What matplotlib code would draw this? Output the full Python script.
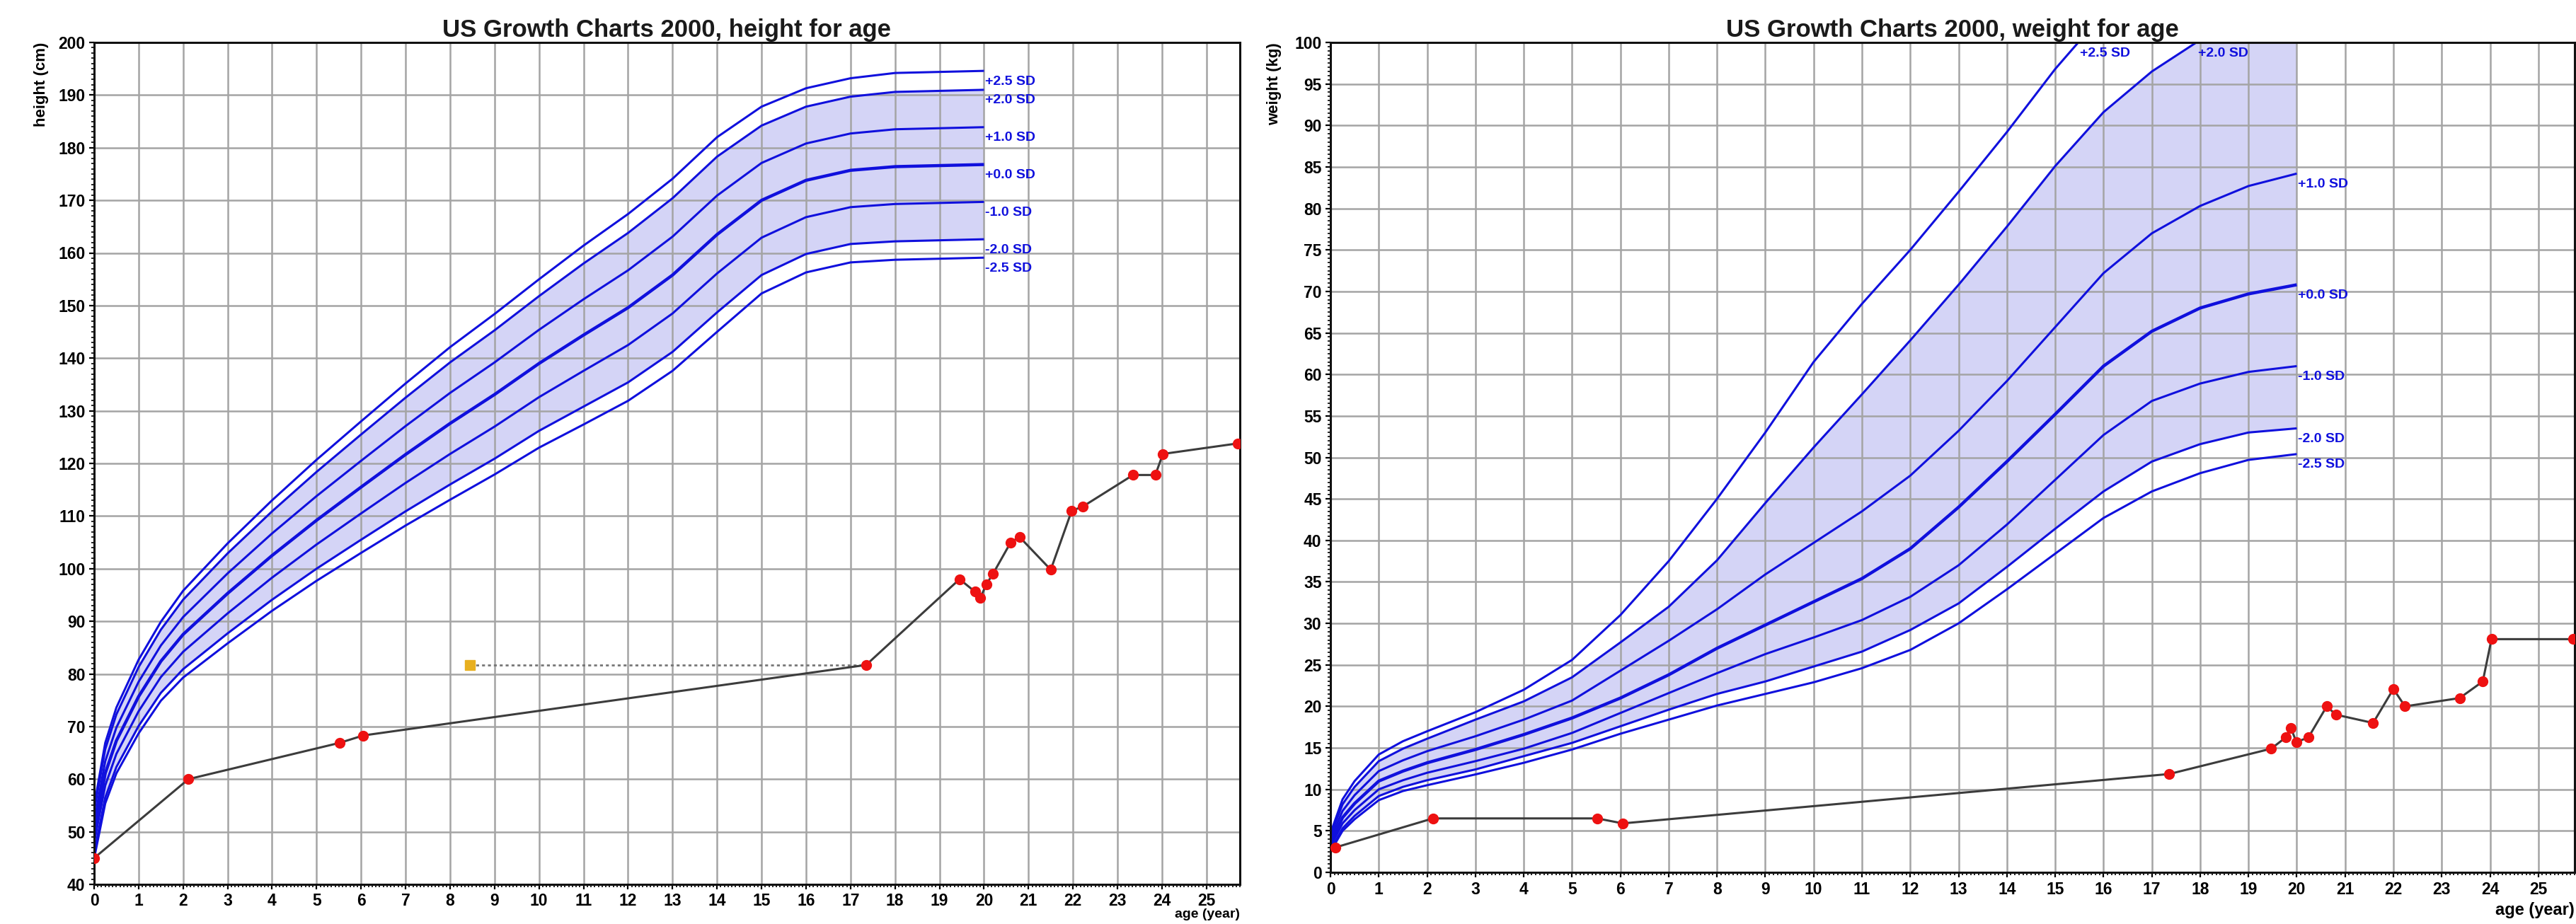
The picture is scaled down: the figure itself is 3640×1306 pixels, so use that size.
import numpy as np
import matplotlib
matplotlib.use("Agg")
import matplotlib.pyplot as plt
from matplotlib.ticker import MultipleLocator

plt.rcParams['font.family'] = ['Liberation Sans', 'DejaVu Sans']

# ---------------- data ----------------
ages = [0, 0.25, 0.5, 1, 1.5, 2, 3, 4, 5, 6, 7, 8, 9, 10, 11, 12, 13, 14, 15, 16, 17, 18, 19, 20]
sd_labels = ['+2.5 SD', '+2.0 SD', '+1.0 SD', '+0.0 SD', '-1.0 SD', '-2.0 SD', '-2.5 SD']

# height for age (cm)
h_p25 = [54.9, 66.9, 73.6, 82.7, 89.9, 95.8, 104.8, 113.0, 120.7, 128.0, 135.2, 142.1, 148.4, 155.0, 161.4, 167.4, 174.1, 182.0, 187.8, 191.3, 193.2, 194.2, 194.4, 194.6]
h_p20 = [53.9, 65.7, 72.3, 81.3, 88.4, 94.1, 102.9, 110.9, 118.4, 125.5, 132.5, 139.2, 145.3, 151.8, 158.0, 163.8, 170.4, 178.3, 184.2, 187.8, 189.7, 190.6, 190.8, 191.0]
h_p10 = [51.9, 63.4, 69.8, 78.5, 85.4, 90.8, 99.1, 106.7, 113.8, 120.5, 127.1, 133.4, 139.2, 145.4, 151.2, 156.7, 163.1, 170.9, 177.1, 180.8, 182.7, 183.5, 183.7, 183.9]
h_00 = [49.9, 61.1, 67.3, 75.7, 82.4, 87.5, 95.3, 102.5, 109.2, 115.5, 121.7, 127.6, 133.1, 139.0, 144.4, 149.6, 155.8, 163.5, 170.0, 173.8, 175.7, 176.4, 176.6, 176.8]
h_m10 = [47.9, 58.8, 64.8, 72.9, 79.4, 84.2, 91.5, 98.3, 104.6, 110.5, 116.3, 121.8, 127.0, 132.6, 137.6, 142.5, 148.5, 156.1, 162.9, 166.8, 168.7, 169.3, 169.5, 169.7]
h_m20 = [45.9, 56.5, 62.3, 70.1, 76.4, 80.9, 87.7, 94.1, 100.0, 105.5, 110.9, 116.0, 120.9, 126.2, 130.8, 135.4, 141.2, 148.7, 155.8, 159.8, 161.7, 162.2, 162.4, 162.6]
h_m25 = [44.9, 55.4, 61.1, 68.7, 74.9, 79.3, 85.8, 92.0, 97.7, 103.0, 108.2, 113.1, 117.9, 123.0, 127.4, 131.9, 137.6, 145.0, 152.3, 156.3, 158.2, 158.7, 158.9, 159.1]

# weight for age (kg)
w_p25 = [4.7, 8.8, 11.0, 14.2, 15.8, 17.0, 19.3, 22.0, 25.6, 31.0, 37.5, 45.0, 53.0, 61.5, 68.5, 75.0, 82.0, 89.2, 96.8, 103.5, 109.5, 114.0, 117.0, 119.0]
w_p20 = [4.4, 8.2, 10.3, 13.4, 14.9, 16.1, 18.4, 20.6, 23.5, 27.7, 32.0, 37.6, 44.5, 51.2, 57.6, 64.1, 70.8, 77.8, 85.1, 91.6, 96.5, 100.3, 103.5, 106.5]
w_p10 = [4.0, 7.4, 9.3, 12.2, 13.5, 14.6, 16.4, 18.4, 20.7, 24.3, 27.9, 31.7, 35.9, 39.7, 43.5, 47.8, 53.2, 59.2, 65.7, 72.2, 77.0, 80.3, 82.7, 84.2]
w_00 = [3.5, 6.6, 8.3, 11.0, 12.2, 13.2, 14.8, 16.6, 18.6, 21.0, 23.8, 27.0, 29.8, 32.6, 35.4, 39.0, 44.0, 49.5, 55.2, 61.0, 65.2, 68.0, 69.7, 70.8]
w_m10 = [3.1, 5.9, 7.5, 10.0, 11.1, 12.0, 13.4, 14.9, 16.8, 19.2, 21.6, 24.0, 26.3, 28.3, 30.4, 33.2, 37.0, 41.9, 47.3, 52.7, 56.8, 58.9, 60.3, 61.0]
w_m20 = [2.7, 5.3, 6.8, 9.2, 10.3, 11.1, 12.4, 14.0, 15.6, 17.6, 19.6, 21.5, 23.0, 24.8, 26.6, 29.2, 32.4, 36.8, 41.4, 45.9, 49.5, 51.6, 53.0, 53.5]
w_m25 = [2.5, 5.0, 6.4, 8.7, 9.8, 10.5, 11.8, 13.2, 14.8, 16.7, 18.4, 20.1, 21.5, 22.9, 24.6, 26.8, 30.0, 34.1, 38.4, 42.7, 45.9, 48.1, 49.7, 50.4]

# patient measurements
pt_h_age = [0, 2.12, 5.52, 6.05, 17.35, 19.45, 19.8, 19.92, 20.05, 20.2, 20.6, 20.8, 21.5, 21.97, 22.22, 23.35, 23.85, 24.02, 25.7]
pt_h_val = [45.0, 60.0, 66.9, 68.3, 81.7, 98.0, 95.6, 94.5, 97.0, 99.0, 105.0, 106.0, 99.8, 111.0, 111.8, 117.8, 117.8, 121.8, 123.8]
est_h_age = [8.45, 17.35]
est_h_val = [81.7, 81.7]

pt_w_age = [0.1, 2.12, 5.52, 6.05, 17.36, 19.47, 19.77, 19.88, 19.99, 20.24, 20.62, 20.81, 21.58, 22.0, 22.24, 23.37, 23.85, 24.03, 25.72]
pt_w_val = [3.0, 6.5, 6.5, 5.9, 11.85, 14.9, 16.25, 17.4, 15.7, 16.25, 20.0, 19.0, 18.0, 22.1, 20.0, 21.0, 23.0, 28.1, 28.1]

# ---------------- style ----------------
BLUE = '#1010dd'
FILL = '#d4d4f6'
GRID = '#a4a4a4'
LINE = '#3c3c3c'
RED = '#ee1111'

fig = plt.figure(figsize=(36.4, 13.06), dpi=100)
axL = fig.add_axes([133/3640, 56/1306, (1752-133)/3640, (1250-60)/1306])
axR = fig.add_axes([1880/3640, 73/1306, (3638-1880)/3640, (1233-60)/1306])


def setup(ax, ylim, ymaj, ymin, title, ylabel, ylab_x, xlab_y, xlab_size):
    ax.set_xlim(0, 25.75)
    ax.set_ylim(*ylim)
    ax.xaxis.set_major_locator(MultipleLocator(1))
    ax.xaxis.set_minor_locator(MultipleLocator(1/12))
    ax.yaxis.set_major_locator(MultipleLocator(ymaj))
    ax.yaxis.set_minor_locator(MultipleLocator(ymin))
    ax.grid(True, which='major', color=GRID, lw=1.8)
    ax.set_axisbelow('line')
    ax.tick_params(which='major', direction='out', length=5, width=1.6,
                   labelsize=16.5, pad=4, top=False, right=False)
    ax.tick_params(which='minor', direction='out', length=3, width=1.2,
                   top=False, right=False)
    for lab in ax.get_xticklabels() + ax.get_yticklabels():
        lab.set_fontweight('bold')
    for s in ax.spines.values():
        s.set_linewidth(2.2)
        s.set_color('#111111')
    ax.set_title(title, fontsize=25, fontweight='bold', pad=6, color='#1a1a1a')
    ax.text(ylab_x, 1.0, ylabel, rotation=90, ha='center', va='top',
            transform=ax.transAxes, fontsize=16, fontweight='bold')
    ax.text(1.0, xlab_y, 'age (year)', ha='right', va='top',
            transform=ax.transAxes, fontsize=xlab_size, fontweight='bold')


def draw_curves(ax, curves, top):
    ax.fill_between(ages, curves[5], curves[1], color=FILL, lw=0, zorder=1)
    for i, (c, lbl) in enumerate(zip(curves, sd_labels)):
        ax.plot(ages, c, color=BLUE, lw=3.2 if i == 3 else 2.2, zorder=2,
                solid_capstyle='butt')
        c = np.asarray(c)
        if c[-1] > top:
            idx = int(np.argmax(c > top))
            xe = np.interp(top, [c[idx-1], c[idx]], [ages[idx-1], ages[idx]])
            ye = top
        else:
            xe, ye = ages[-1], c[-1]
        ax.annotate(lbl, xy=(xe, ye), xytext=(2, -15), textcoords='offset pixels',
                    color=BLUE, fontsize=14, fontweight='bold', va='center',
                    ha='left', zorder=3)


def draw_patient(ax, xa, ya):
    ax.plot(xa, ya, color=LINE, lw=2.2, zorder=4, clip_on=False)
    ax.plot(xa, ya, ls='none', marker='o', ms=10, mfc=RED, mec=RED,
            zorder=5, clip_on=True)


setup(axL, (40, 200), 10, 1, 'US Growth Charts 2000, height for age',
      'height (cm)', -0.046, -0.0285, 14)
setup(axR, (0, 100), 5, 0.5, 'US Growth Charts 2000, weight for age',
      'weight (kg)', -0.045, -0.036, 17)

draw_curves(axL, [h_p25, h_p20, h_p10, h_00, h_m10, h_m20, h_m25], 200)
draw_curves(axR, [w_p25, w_p20, w_p10, w_00, w_m10, w_m20, w_m25], 100)

axL.plot(est_h_age, est_h_val, color='#777777', lw=2, ls=(0, (1.5, 1.5)), zorder=3)
axL.plot(est_h_age[:1], est_h_val[:1], ls='none', marker='s', ms=10,
         mfc='#e8b020', mec='#e8b020', zorder=5)
draw_patient(axL, pt_h_age, pt_h_val)
draw_patient(axR, pt_w_age, pt_w_val)

fig.savefig('out.png', dpi=100, facecolor='white')
